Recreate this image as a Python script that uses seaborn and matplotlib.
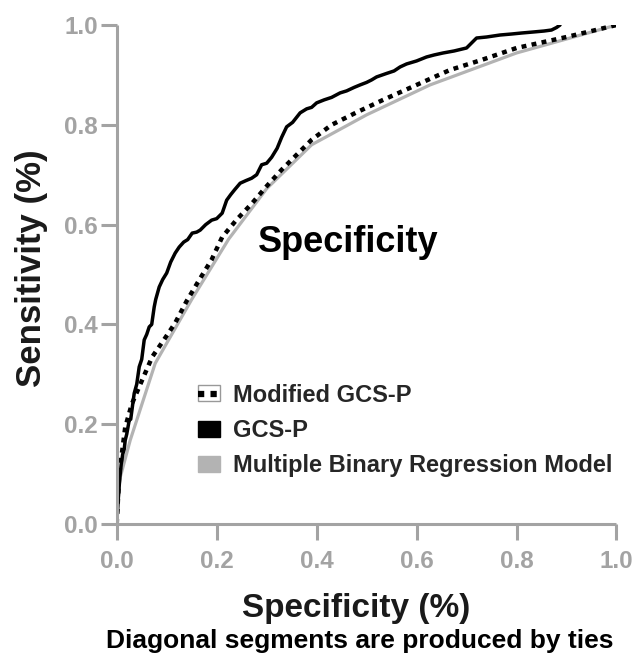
import seaborn as sns
import matplotlib.pyplot as plt
from matplotlib.patches import Patch
from matplotlib.lines import Line2D

# ROC curves
gcsp_x = [0, 0.003, 0.006, 0.009, 0.012, 0.015, 0.017, 0.02, 0.025, 0.028,
          0.032, 0.035, 0.04, 0.045, 0.05, 0.055, 0.06, 0.065, 0.07, 0.075,
          0.078, 0.085, 0.092, 0.1, 0.108, 0.117, 0.125, 0.134, 0.142, 0.151,
          0.16, 0.167, 0.178, 0.19, 0.2, 0.211, 0.22, 0.228, 0.236, 0.247,
          0.258, 0.27, 0.28, 0.29, 0.3, 0.31, 0.321, 0.33, 0.34, 0.352,
          0.367, 0.38, 0.39, 0.4, 0.415, 0.43, 0.447, 0.46, 0.475, 0.487,
          0.5, 0.51, 0.52, 0.54, 0.555, 0.567, 0.58, 0.6, 0.62, 0.635,
          0.653, 0.675, 0.7, 0.708, 0.72, 0.74, 0.767, 0.79, 0.81, 0.833,
          0.855, 0.87, 0.88, 0.887]
gcsp_y = [0, 0.05, 0.09, 0.12, 0.14, 0.15, 0.168, 0.18, 0.208, 0.21,
          0.24, 0.262, 0.28, 0.315, 0.33, 0.369, 0.38, 0.395, 0.40, 0.435,
          0.45, 0.475, 0.49, 0.503, 0.525, 0.543, 0.555, 0.565, 0.57, 0.583,
          0.585, 0.589, 0.6, 0.609, 0.612, 0.623, 0.649, 0.66, 0.67, 0.683,
          0.688, 0.693, 0.70, 0.72, 0.723, 0.735, 0.753, 0.775, 0.796, 0.805,
          0.824, 0.832, 0.835, 0.844, 0.85, 0.855, 0.864, 0.868, 0.875, 0.88,
          0.885, 0.89, 0.896, 0.903, 0.908, 0.916, 0.922, 0.928, 0.936, 0.94,
          0.944, 0.948, 0.954, 0.962, 0.974, 0.976, 0.98, 0.982, 0.984, 0.986,
          0.988, 0.99, 0.995, 1.0]

mod_x = [0, 0.005, 0.017, 0.03, 0.045, 0.071, 0.095, 0.117, 0.14, 0.165,
         0.19, 0.211, 0.24, 0.271, 0.3, 0.33, 0.36, 0.39, 0.43, 0.48,
         0.533, 0.6, 0.667, 0.73, 0.8, 0.9, 1.0]
mod_y = [0, 0.1, 0.194, 0.24, 0.275, 0.335, 0.37, 0.403, 0.447, 0.489,
         0.53, 0.575, 0.61, 0.643, 0.677, 0.71, 0.74, 0.77, 0.8, 0.825,
         0.85, 0.88, 0.91, 0.93, 0.954, 0.976, 1.0]

mbr_x = [0, 0.006, 0.027, 0.077, 0.15, 0.224, 0.3, 0.39, 0.5, 0.627, 0.8, 1.0]
mbr_y = [0, 0.09, 0.168, 0.322, 0.45, 0.571, 0.672, 0.76, 0.82, 0.88, 0.944, 1.0]

labels = ["Modified GCS-P", "GCS-P", "Multiple Binary Regression Model"]
ticks = [0.0, 0.2, 0.4, 0.6, 0.8, 1.0]

sns.set_style("ticks")
plt.rcParams['font.family'] = ['Liberation Sans', 'DejaVu Sans']
plt.rcParams['font.weight'] = 'bold'

axis_grey = "#a3a3a3"
line_grey = "#b3b3b3"

fig = plt.figure(figsize=(6.33, 6.57), dpi=100)
ax = fig.add_axes([0.1844, 0.2024, 0.7895, 0.7595])

sns.lineplot(x=mbr_x, y=mbr_y, ax=ax, sort=False, estimator=None,
             color=line_grey, lw=2.3)
sns.lineplot(x=mod_x, y=mod_y, ax=ax, sort=False, estimator=None,
             color="black", lw=3.2, linestyle=(0, (1.1, 1.2)))
sns.lineplot(x=gcsp_x, y=gcsp_y, ax=ax, sort=False, estimator=None,
             color="black", lw=2.5)

ax.set_xlim(0, 1)
ax.set_ylim(0, 1)
ax.set_xticks(ticks)
ax.set_yticks(ticks)
ax.set_xticklabels([f"{t:.1f}" for t in ticks])
ax.set_yticklabels([f"{t:.1f}" for t in ticks])
ax.tick_params(axis="both", colors=axis_grey, width=2.2, length=11.5,
               labelsize=17.5, labelcolor=axis_grey)
ax.tick_params(axis="x", pad=7)
ax.tick_params(axis="y", pad=2)
for lab in ax.get_xticklabels() + ax.get_yticklabels():
    lab.set_fontweight("bold")
sns.despine(ax=ax)
for s in ["left", "bottom"]:
    ax.spines[s].set_color(axis_grey)
    ax.spines[s].set_linewidth(2.2)
    ax.spines[s].set_capstyle("butt")

ax.set_xlabel("Specificity (%)", fontsize=24, fontweight="bold", color="#1a1a1a")
ax.set_ylabel("Sensitivity (%)", fontsize=25, fontweight="bold", color="#1a1a1a")
ax.xaxis.set_label_coords(0.479, -0.138)
ax.yaxis.set_label_coords(-0.137, 0.513)

ax.text(0.283, 0.565, "Specificity", fontsize=26, fontweight="bold",
        ha="left", va="center", color="black")

fig.text(0.568, 0.024, "Diagonal segments are produced by ties",
         fontsize=19, fontweight="bold", ha="center", va="center", color="black")

handles = [
    (Patch(facecolor="white", edgecolor="#999999", lw=1),
     Line2D([], [], color="black", lw=4.5, linestyle=(0, (1.0, 1.0)))),
    Patch(facecolor="black", edgecolor="black"),
    Patch(facecolor=line_grey, edgecolor=line_grey),
]
leg = ax.legend(handles, labels, loc="upper left", bbox_to_anchor=(0.139, 0.305),
                frameon=False, fontsize=17, handlelength=0.95, handleheight=0.65,
                handletextpad=0.55, labelspacing=0.52, borderpad=0)
for t in leg.get_texts():
    t.set_fontweight("bold")

fig.savefig("out.png", dpi=100)
